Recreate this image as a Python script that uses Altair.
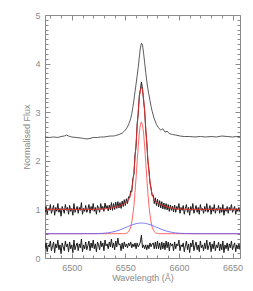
import altair as alt
import pandas as pd

# ---------------- data ----------------
# observed (black, noisy) spectrum, 1 A steps from 6475
obs_start = 6475
obs_flux = [
    0.94, 1.06, 0.90, 1.02, 0.98, 1.10, 0.92, 1.00, 1.08, 0.88,
    1.04, 0.96, 1.12, 0.94, 1.02, 0.86, 1.06, 1.00, 0.92, 1.10,
    0.98, 1.04, 0.90, 1.08, 0.96, 1.02, 0.88, 1.12, 0.94, 1.00,
    1.06, 0.92, 1.04, 0.98, 1.14, 0.90, 1.02, 0.96, 1.08, 0.94,
    1.00, 1.10, 0.92, 1.06, 0.98, 1.12, 0.96, 1.04, 0.90, 1.08,
    1.02, 0.94, 1.12, 1.00, 1.06, 0.96, 1.13, 1.02, 1.08, 0.97,
    1.09, 0.99, 1.14, 0.98, 1.12, 1.00, 1.15, 1.02, 1.16, 1.03,
    1.14, 1.02, 1.17, 1.06, 1.20, 1.08, 1.22, 1.12, 1.26, 1.24,
    1.38, 1.36, 1.63, 1.72, 2.12, 2.30, 2.76, 2.96, 3.34, 3.46,
    3.62,
    3.48, 3.24, 3.04, 2.64, 2.38, 2.00, 1.82, 1.54, 1.44, 1.28,
    1.30, 1.12, 1.24, 1.08, 1.21, 1.05, 1.18, 1.03, 1.16, 1.01,
    1.13, 1.00, 1.12, 0.99, 1.10, 0.96, 1.09, 0.98, 1.07, 0.95,
    1.09, 0.94, 1.06, 1.00, 1.12, 0.92, 1.04, 0.98, 1.08, 0.90,
    1.02, 1.10, 0.94, 1.04, 0.88, 1.06, 0.98, 1.12, 0.92, 1.00,
    1.08, 0.94, 1.04, 0.90, 1.10, 0.98, 1.02, 0.92, 1.06, 0.96,
    1.12, 0.94, 1.00, 1.08, 0.90, 1.04, 0.96, 1.10, 0.92, 1.02,
    0.98, 1.08, 0.92, 1.04, 0.94, 1.10, 0.88, 1.02, 0.96, 1.06,
    0.92, 1.04, 0.98, 1.10, 0.94, 1.00, 1.06, 0.90, 1.02, 0.96,
    1.04, 0.94,
]
# residuals (offset), same grid
resid_flux = [
    0.19, 0.31, 0.13, 0.27, 0.23, 0.35, 0.15, 0.25, 0.33, 0.11,
    0.29, 0.21, 0.37, 0.17, 0.27, 0.09, 0.31, 0.23, 0.15, 0.35,
    0.23, 0.29, 0.13, 0.33, 0.19, 0.27, 0.11, 0.37, 0.17, 0.25,
    0.31, 0.15, 0.29, 0.21, 0.39, 0.13, 0.27, 0.19, 0.33, 0.17,
    0.25, 0.35, 0.15, 0.31, 0.21, 0.37, 0.19, 0.29, 0.13, 0.33,
    0.27, 0.17, 0.35, 0.23, 0.31, 0.15, 0.37, 0.25, 0.29, 0.19,
    0.33, 0.23, 0.39, 0.21, 0.31, 0.17, 0.35, 0.23, 0.41, 0.27,
    0.29, 0.15, 0.31, 0.19, 0.33, 0.23, 0.29, 0.21, 0.31, 0.25,
    0.33, 0.21, 0.29, 0.23, 0.31, 0.19, 0.31, 0.23, 0.27, 0.33,
    0.47,
    0.21, 0.27, 0.19, 0.27, 0.17, 0.27, 0.19, 0.31, 0.23, 0.29,
    0.31, 0.19, 0.33, 0.19, 0.35, 0.19, 0.31, 0.17, 0.33, 0.19,
    0.31, 0.17, 0.35, 0.21, 0.33, 0.15, 0.31, 0.25, 0.29, 0.15,
    0.33, 0.19, 0.29, 0.25, 0.37, 0.15, 0.27, 0.23, 0.31, 0.13,
    0.25, 0.35, 0.17, 0.29, 0.11, 0.31, 0.23, 0.37, 0.15, 0.25,
    0.33, 0.17, 0.27, 0.13, 0.35, 0.21, 0.27, 0.15, 0.31, 0.19,
    0.37, 0.17, 0.25, 0.33, 0.13, 0.29, 0.19, 0.35, 0.15, 0.27,
    0.21, 0.33, 0.15, 0.29, 0.17, 0.35, 0.11, 0.27, 0.19, 0.31,
    0.15, 0.29, 0.21, 0.35, 0.17, 0.25, 0.31, 0.13, 0.27, 0.19,
    0.29, 0.17,
]

# upper (offset) comparison spectrum
grey_wl = [6475, 6479, 6483, 6487, 6490, 6493, 6495, 6497, 6500, 6504,
           6508, 6511, 6514, 6517, 6520, 6524, 6527, 6530, 6533, 6536,
           6539, 6541, 6544, 6547, 6549, 6551, 6553, 6555, 6556, 6557,
           6558, 6559, 6560, 6561, 6562, 6563, 6564, 6565, 6566, 6567,
           6568, 6569, 6570, 6571, 6572, 6573, 6574, 6575, 6577, 6579,
           6581, 6583, 6585, 6587, 6589, 6591, 6594, 6597, 6601, 6605,
           6610, 6615, 6620, 6625, 6630, 6635, 6640, 6645, 6650, 6654, 6657]
grey_flux = [2.49, 2.48, 2.49, 2.48, 2.50, 2.51, 2.53, 2.51, 2.49, 2.48,
             2.47, 2.46, 2.45, 2.46, 2.48, 2.48, 2.49, 2.49, 2.50, 2.51,
             2.51, 2.52, 2.54, 2.57, 2.61, 2.66, 2.74, 2.87, 2.97, 3.10,
             3.25, 3.42, 3.58, 3.75, 3.92, 4.12, 4.32, 4.42, 4.38, 4.22,
             4.02, 3.82, 3.64, 3.48, 3.36, 3.24, 3.12, 3.02, 2.86, 2.75,
             2.68, 2.63, 2.66, 2.59, 2.61, 2.56, 2.54, 2.53, 2.51, 2.50,
             2.50, 2.49, 2.50, 2.49, 2.50, 2.49, 2.51, 2.50, 2.49, 2.50, 2.50]

# model curves
fit_wl = [6475, 6490, 6505, 6515, 6520, 6525, 6529, 6533, 6537, 6541,
          6545, 6547, 6549, 6551, 6552,
          6553, 6554, 6555, 6556, 6557, 6558, 6559, 6560, 6561, 6562,
          6563, 6564, 6565, 6566, 6567, 6568, 6569, 6570, 6571, 6572,
          6573, 6574, 6575, 6576, 6577,
          6578, 6579, 6581, 6583, 6585, 6589, 6593, 6597, 6601, 6605,
          6610, 6615, 6625, 6640, 6657]
fit_total = [1.000, 1.000, 1.000, 1.000, 1.001, 1.004, 1.008, 1.016, 1.030, 1.050,
             1.079, 1.097, 1.116, 1.145, 1.164,
             1.193, 1.242, 1.311, 1.419, 1.576, 1.773, 2.050, 2.356, 2.691, 3.015,
             3.287, 3.459, 3.520, 3.459, 3.287, 3.015, 2.691, 2.356, 2.050, 1.773,
             1.576, 1.419, 1.311, 1.242, 1.193,
             1.164, 1.145, 1.116, 1.097, 1.079, 1.050, 1.030, 1.016, 1.008, 1.004,
             1.001, 1.000, 1.000, 1.000, 1.000]
narrow = [0.50, 0.50, 0.50, 0.50, 0.50, 0.50, 0.50, 0.50, 0.50, 0.50,
          0.50, 0.50, 0.50, 0.51, 0.52,
          0.54, 0.58, 0.64, 0.74, 0.89, 1.08, 1.35, 1.65, 1.98, 2.30,
          2.57, 2.74, 2.80, 2.74, 2.57, 2.30, 1.98, 1.65, 1.35, 1.08,
          0.89, 0.74, 0.64, 0.58, 0.54,
          0.52, 0.51, 0.50, 0.50, 0.50, 0.50, 0.50, 0.50, 0.50, 0.50,
          0.50, 0.50, 0.50, 0.50, 0.50]
broad = [0.500, 0.500, 0.500, 0.500, 0.501, 0.504, 0.508, 0.516, 0.530, 0.550,
         0.579, 0.597, 0.616, 0.635, 0.644,
         0.653, 0.662, 0.671, 0.679, 0.686, 0.693, 0.700, 0.706, 0.711, 0.715,
         0.717, 0.719, 0.720, 0.719, 0.717, 0.715, 0.711, 0.706, 0.700, 0.693,
         0.686, 0.679, 0.671, 0.662, 0.653,
         0.644, 0.635, 0.616, 0.597, 0.579, 0.550, 0.530, 0.516, 0.508, 0.504,
         0.501, 0.500, 0.500, 0.500, 0.500]

x_major = [6500, 6550, 6600, 6650]
x_minor = [6480, 6490, 6510, 6520, 6530, 6540, 6560, 6570, 6580, 6590,
           6610, 6620, 6630, 6640]
y_major = [0, 1, 2, 3, 4, 5]
y_minor = [0.1, 0.2, 0.3, 0.4, 0.5, 0.6, 0.7, 0.8, 0.9,
           1.1, 1.2, 1.3, 1.4, 1.5, 1.6, 1.7, 1.8, 1.9,
           2.1, 2.2, 2.3, 2.4, 2.5, 2.6, 2.7, 2.8, 2.9,
           3.1, 3.2, 3.3, 3.4, 3.5, 3.6, 3.7, 3.8, 3.9,
           4.1, 4.2, 4.3, 4.4, 4.5, 4.6, 4.7, 4.8, 4.9]

# ---------------- chart ----------------
W, H = 195, 243
XDOM = [6475, 6657]
YDOM = [0, 5]
AX = "#8a8a8a"
FONT = "Liberation Sans"

obs_wl = [obs_start + i for i in range(len(obs_flux))]
df_obs = pd.DataFrame({"wl": obs_wl, "f": obs_flux})
df_res = pd.DataFrame({"wl": obs_wl, "f": resid_flux})
df_grey = pd.DataFrame({"wl": grey_wl, "f": grey_flux})
df_tot = pd.DataFrame({"wl": fit_wl, "f": fit_total})
df_nar = pd.DataFrame({"wl": fit_wl, "f": narrow})
df_bro = pd.DataFrame({"wl": fit_wl, "f": broad})

xs = alt.Scale(domain=XDOM, nice=False, zero=False)
ys = alt.Scale(domain=YDOM, nice=False, zero=False)


def tick_axis(orient, offset, values, size):
    return alt.Axis(orient=orient, offset=offset, values=values, labels=False,
                    title="", tickSize=size, tickColor=AX, tickWidth=1,
                    domain=False, grid=False)


def line(df, color, xaxis, yaxis, opacity=1.0, width=1.0):
    return alt.Chart(df).mark_line(color=color, strokeWidth=width,
                                   opacity=opacity, clip=True).encode(
        x=alt.X("wl:Q", scale=xs, axis=xaxis),
        y=alt.Y("f:Q", scale=ys, axis=yaxis),
    )


main_x = alt.Axis(orient="bottom", values=x_major, format="d",
                  title="Wavelength (Å)",
                  ticks=False, domain=False, grid=False, labelPadding=5,
                  labelColor=AX, labelFont=FONT, labelFontSize=9,
                  titleColor=AX, titleFont=FONT, titleFontSize=9,
                  titleFontWeight="normal", titlePadding=1)
main_y = alt.Axis(orient="left", values=y_major, format="d",
                  title="Normalised Flux",
                  ticks=False, domain=False, grid=False, labelPadding=5,
                  labelColor=AX, labelFont=FONT, labelFontSize=9,
                  titleColor=AX, titleFont=FONT, titleFontSize=9,
                  titleFontWeight="normal", titlePadding=3)

l_grey = line(df_grey, "#4a4a4a", main_x, main_y, width=0.9)
l_obs = line(df_obs, "#1a1a1a",
             tick_axis("top", -H, x_major, 5), tick_axis("right", -W, y_major, 5))
l_tot = line(df_tot, "#ff2a2a",
             tick_axis("top", -H, x_minor, 3), tick_axis("right", -W, y_minor, 3),
             opacity=0.85)
l_nar = line(df_nar, "#ff4040",
             tick_axis("bottom", -H, x_major, 5), tick_axis("left", -W, y_major, 5),
             opacity=0.8)
l_bro = line(df_bro, "#5a5aff",
             tick_axis("bottom", -H, x_minor, 3), tick_axis("left", -W, y_minor, 3),
             opacity=0.8)
l_res = line(df_res, "#1a1a1a", alt.Axis(labels=False, ticks=False, domain=False,
                                         grid=False, title=""),
             alt.Axis(labels=False, ticks=False, domain=False, grid=False, title=""))

chart = alt.layer(l_grey, l_obs, l_res, l_nar, l_bro, l_tot).resolve_axis(
    x="independent", y="independent"
).properties(
    width=W, height=H,
    autosize=alt.AutoSizeParams(type="none"),
    padding={"left": 37, "top": 7, "right": 5, "bottom": 28},
    background="white",
).configure_view(stroke=AX, strokeWidth=1)

chart.save("out.html", embed_options={"renderer": "svg", "actions": False})
